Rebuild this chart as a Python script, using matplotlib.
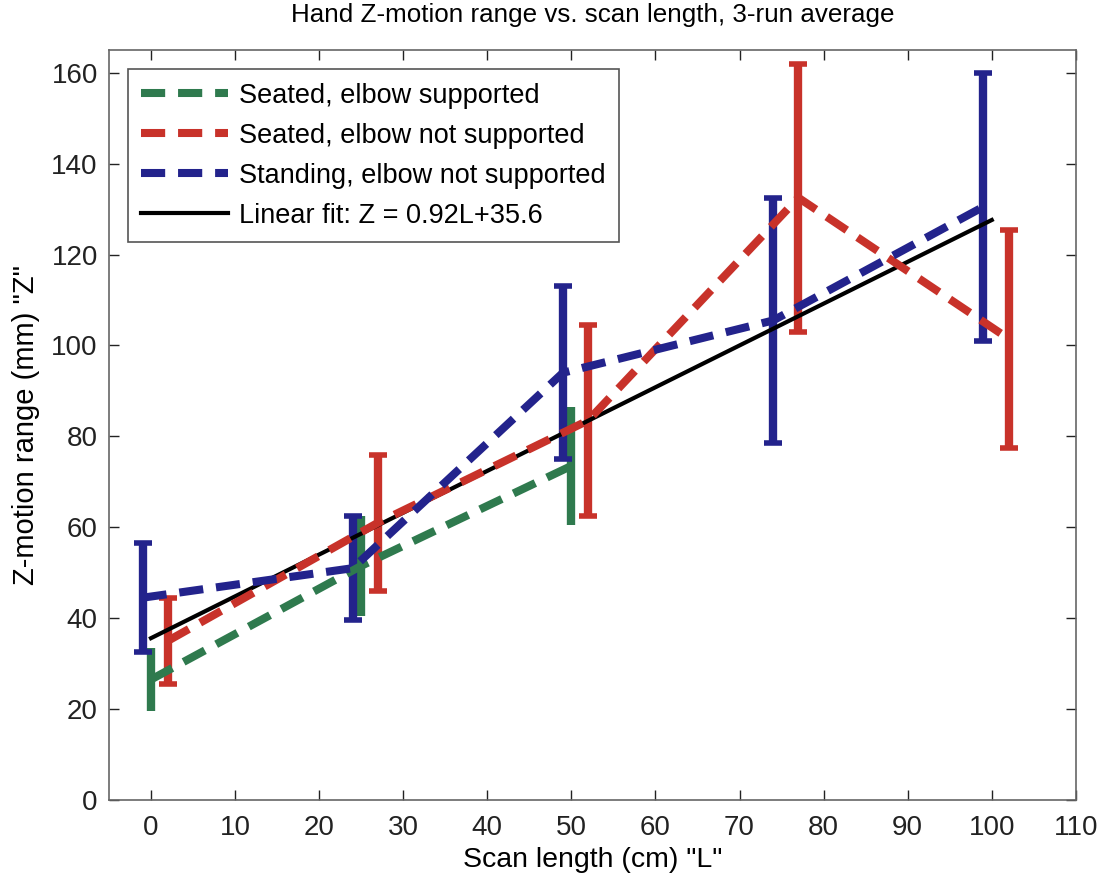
import matplotlib.pyplot as plt
from matplotlib.lines import Line2D
import numpy as np

plt.rcParams['font.family'] = ['Liberation Sans', 'DejaVu Sans']

# seated, elbow supported
x_green = [0, 25, 50]
z_green = [26.5, 51.5, 73.5]
e_green = [7, 11, 13]

# seated, elbow not supported
x_red = [2, 27, 52, 77, 102]
z_red = [35, 61, 83.5, 132.5, 101.5]
e_red = [9.5, 15, 21, 29.5, 24]

# standing, elbow not supported
x_blue = [-1, 24, 49, 74, 99]
z_blue = [44.5, 51, 94, 105.5, 130.5]
e_blue = [12, 11.5, 19, 27, 29.5]

# linear fit endpoints, Z = 0.92L + 35.6
x_fit = [0, 100]
z_fit = [35.6, 127.6]

green = '#2f7a4e'
red = '#c8322a'
blue = '#23238c'

fig = plt.figure(figsize=(11.05, 8.82), dpi=100)
ax = fig.add_axes([0.0986, 0.093, 0.875, 0.8503])

series = [
    (x_green, z_green, e_green, green, 'Seated, elbow supported', 0),
    (x_red, z_red, e_red, red, 'Seated, elbow not supported', 6.5),
    (x_blue, z_blue, e_blue, blue, 'Standing, elbow not supported', 6.5),
]
handles = []
for xs, zs, es, c, lab, cap in series:
    ax.errorbar(xs, zs, yerr=es, color=c, linewidth=5.8, dashes=(3, 1.6),
                elinewidth=6, capsize=cap, capthick=4)
    handles.append(Line2D([], [], color=c, linewidth=5.8, dashes=(3, 1.6), label=lab))

fit, = ax.plot(x_fit, z_fit, color='black', linewidth=3, label='Linear fit: Z = 0.92L+35.6')
handles.append(fit)

ax.set_xlim(-5, 110)
ax.set_ylim(0, 165)
ax.set_xticks(np.arange(0, 111, 10))
ax.set_yticks(np.arange(0, 161, 20))
ax.tick_params(direction='in', length=7, width=1, top=True, right=True,
               labelsize=20, colors='#222222', pad=11)
ax.tick_params(axis='y', pad=8)
for s in ax.spines.values():
    s.set_color('#666666')
    s.set_linewidth(1.2)

ax.set_title('Hand Z-motion range vs. scan length, 3-run average', fontsize=18.7, pad=20)
ax.set_xlabel('Scan length (cm) "L"', fontsize=20.5, labelpad=4)
ax.set_ylabel('Z-motion range (mm) "Z"', fontsize=21, labelpad=8)

leg = ax.legend(handles=handles, loc='upper left', fontsize=19.5, handlelength=3.2,
                handletextpad=0.4, borderaxespad=0.7, borderpad=0.5, fancybox=False,
                edgecolor='#555555', framealpha=1, labelspacing=0.52)
leg.get_frame().set_linewidth(1.2)

fig.savefig('out.png', dpi=100)
